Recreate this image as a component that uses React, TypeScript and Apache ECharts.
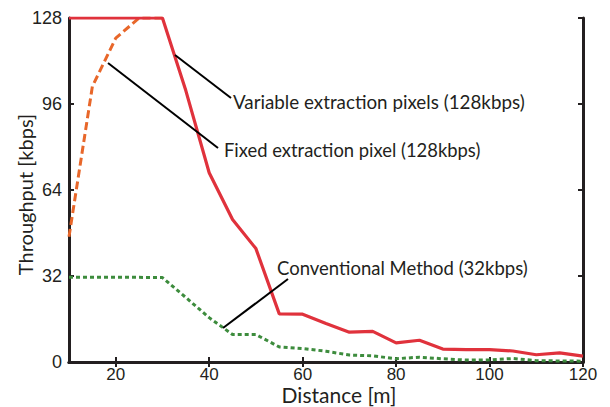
import React, { useEffect, useRef } from "react";
import * as echarts from "echarts";

const distances = [10, 15, 20, 25, 30, 35, 40, 45, 50, 55, 60, 65, 70, 75, 80, 85, 90, 95, 100, 105, 110, 115, 120];
const variablePixels = [128, 128, 128, 128, 128, 101, 70.4, 53, 42.2, 17.9, 17.8, 14.3, 11.1, 11.4, 7.1, 8.1, 4.8, 4.6, 4.6, 4.1, 2.7, 3.4, 2.2];
const fixedDistances = [10, 15, 20, 25, 30];
const fixedPixel = [46.6, 102.5, 120.5, 128, 128];
const conventional = [31.5, 31.5, 31.5, 31.5, 31.4, 24, 16.5, 10.2, 10.2, 5.6, 5.0, 4.0, 2.6, 2.3, 1.2, 1.8, 1.2, 0.7, 0.8, 1.3, 0.5, 0.4, 0.3];
const xTicks = [20, 40, 60, 80, 100, 120];
const yTicks = [0, 32, 64, 96, 128];

const labelVariable = "Variable extraction pixels (128kbps)";
const labelFixed = "Fixed extraction pixel (128kbps)";
const labelConventional = "Conventional Method (32kbps)";

const AXIS = "#231f20";
const TEXTFONT = "Lato";
const TICKFONT = "Liberation Sans";

export default function App() {
  const ref = useRef<HTMLDivElement>(null);
  useEffect(() => {
    if (!ref.current) return;
    const chart = echarts.init(ref.current, undefined, { renderer: "svg" });
    const pair = (xs: number[], ys: number[]) => xs.map((x, i) => [x, ys[i]]);
    const axisLineStyle = { show: true, lineStyle: { color: AXIS, width: 3 } };
    const tickStyle = { show: true, inside: true, length: 5, lineStyle: { color: AXIS, width: 2 } };
    chart.setOption({
      animation: false,
      backgroundColor: "#ffffff",
      grid: { left: 69, right: 27, top: 18, bottom: 45, containLabel: false, outerBoundsMode: "none" },
      xAxis: [
        {
          type: "value",
          min: 10,
          max: 120,
          position: "bottom",
          axisLine: axisLineStyle,
          axisTick: { ...tickStyle, customValues: xTicks },
          axisLabel: { customValues: xTicks, fontFamily: TICKFONT, fontSize: 17, lineHeight: 16, color: "#231f20", margin: 4 },
          splitLine: { show: false },
          name: "Distance [m]",
          nameLocation: "middle",
          nameGap: 23,
          nameMoveOverlap: false,
          nameTextStyle: { fontFamily: TEXTFONT, fontSize: 21, lineHeight: 19, color: "#231f20", padding: [0, 0, 0, 26] },
        },
        {
          type: "value",
          min: 10,
          max: 120,
          position: "top",
          axisLine: axisLineStyle,
          axisTick: { ...tickStyle, customValues: xTicks },
          axisLabel: { show: false },
          splitLine: { show: false },
        },
      ],
      yAxis: [
        {
          type: "value",
          min: 0,
          max: 128,
          interval: 32,
          position: "left",
          axisLine: axisLineStyle,
          axisTick: { ...tickStyle, customValues: yTicks },
          axisLabel: { customValues: yTicks, fontFamily: TICKFONT, fontSize: 18, color: "#231f20", margin: 7 },
          splitLine: { show: false },
          name: "Throughput [kbps]",
          nameLocation: "middle",
          nameGap: 34,
          nameMoveOverlap: false,
          nameTextStyle: { fontFamily: TEXTFONT, fontSize: 20, color: "#231f20", padding: [0, 9, 0, 0] },
        },
        {
          type: "value",
          min: 0,
          max: 128,
          interval: 32,
          position: "right",
          axisLine: axisLineStyle,
          axisTick: { ...tickStyle, customValues: yTicks },
          axisLabel: { show: false },
          splitLine: { show: false },
        },
      ],
      series: [
        {
          name: "Fixed extraction pixel (128kbps)",
          type: "line",
          data: pair(fixedDistances, fixedPixel),
          showSymbol: false,
          symbol: "none",
          lineStyle: { color: "#e8672a", width: 3, type: [8, 4] },
          z: 2,
        },
        {
          name: "Conventional Method (32kbps)",
          type: "line",
          data: pair(distances, conventional),
          showSymbol: false,
          symbol: "none",
          lineStyle: { color: "#3d8c3d", width: 3, type: [4, 3] },
          z: 3,
        },
        {
          name: "Variable extraction pixels (128kbps)",
          type: "line",
          data: pair(distances, variablePixels),
          showSymbol: false,
          symbol: "none",
          lineStyle: { color: "#e0323c", width: 3.2 },
          z: 4,
        },
      ],
      graphic: [
        { type: "line", shape: { x1: 175, y1: 55, x2: 231, y2: 98 }, style: { stroke: "#000", lineWidth: 2 }, z: 10 },
        { type: "text", x: 233, y: 101, style: { text: labelVariable, fontFamily: TEXTFONT, fontSize: 18.8, fill: "#231f20", verticalAlign: "middle" }, z: 10 },
        { type: "line", shape: { x1: 108, y1: 63, x2: 218, y2: 148 }, style: { stroke: "#000", lineWidth: 2 }, z: 10 },
        { type: "text", x: 224, y: 150, style: { text: labelFixed, fontFamily: TEXTFONT, fontSize: 18.4, fill: "#231f20", verticalAlign: "middle" }, z: 10 },
        { type: "line", shape: { x1: 223, y1: 328, x2: 288, y2: 279 }, style: { stroke: "#000", lineWidth: 2 }, z: 10 },
        { type: "text", x: 277, y: 268, style: { text: labelConventional, fontFamily: TEXTFONT, fontSize: 18.5, fill: "#231f20", verticalAlign: "middle" }, z: 10 },
      ],
    });
    return () => chart.dispose();
  }, []);
  return <div ref={ref} style={{ width: 610, height: 407, position: "absolute", left: 0, top: 0 }} />;
}
